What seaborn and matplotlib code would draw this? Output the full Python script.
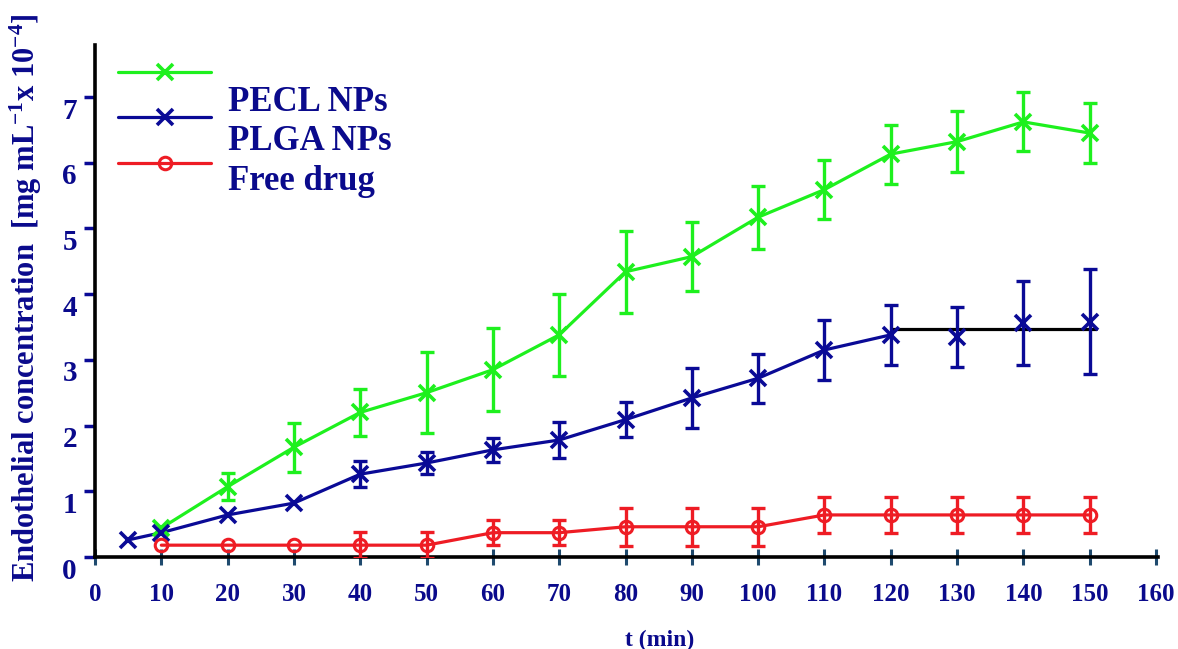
import numpy as np
import pandas as pd
import matplotlib
matplotlib.use("Agg")
import matplotlib.pyplot as plt
import matplotlib.transforms as mtransforms
from matplotlib.lines import Line2D
import seaborn as sns

# ---------------- data ----------------
t_pecl = [10, 20, 30, 40, 50, 60, 70, 80, 90, 100, 110, 120, 130, 140, 150]
v_pecl = [0.44, 1.07, 1.67, 2.20, 2.50, 2.85, 3.38, 4.34, 4.57, 5.17, 5.59, 6.13, 6.32, 6.62, 6.45]
e_pecl = [np.nan, 0.21, 0.37, 0.36, 0.62, 0.63, 0.62, 0.62, 0.53, 0.48, 0.45, 0.45, 0.46, 0.45, 0.46]

t_plga = [5, 10, 20, 30, 40, 50, 60, 70, 80, 90, 100, 110, 120, 130, 140, 150]
v_plga = [0.26, 0.37, 0.64, 0.82, 1.26, 1.43, 1.63, 1.78, 2.09, 2.42, 2.72, 3.15, 3.38, 3.35, 3.56, 3.58]
e_plga = [np.nan, np.nan, np.nan, np.nan, 0.20, 0.17, 0.18, 0.27, 0.27, 0.45, 0.37, 0.46, 0.46, 0.46, 0.64, 0.80]
plga_line_end = 120          # PLGA coloured line stops here
plateau_t = [120, 151]       # black plateau segment
plateau_v = [3.47, 3.47]

t_free = [10, 20, 30, 40, 50, 60, 70, 80, 90, 100, 110, 120, 130, 140, 150]
v_free = [0.18, 0.18, 0.18, 0.18, 0.18, 0.37, 0.37, 0.46, 0.46, 0.46, 0.64, 0.64, 0.64, 0.64, 0.64]
e_free = [np.nan, np.nan, np.nan, 0.20, 0.20, 0.19, 0.19, 0.29, 0.29, 0.29, 0.28, 0.28, 0.28, 0.28, 0.28]

labels = ["PECL NPs", "PLGA NPs", "Free drug"]
x_ticks = [0, 10, 20, 30, 40, 50, 60, 70, 80, 90, 100, 110, 120, 130, 140, 150, 160]
y_ticks = [0, 1, 2, 3, 4, 5, 6, 7]

# ---------------- style ----------------
sns.set_style("white")
plt.rcParams["font.family"] = ["Liberation Serif", "DejaVu Serif"]
plt.rcParams["mathtext.default"] = "regular"

GREEN = "#1EF01E"
NAVY = "#0A0A96"
RED = "#EE1C24"
TXT = "#0A0A8C"

fig = plt.figure(figsize=(11.78, 6.49), dpi=100)
ax = fig.add_axes([95 / 1178, 1 - 557 / 649, 1063 / 1178, (557 - 45) / 649])

df_pecl = pd.DataFrame({"t": t_pecl, "v": v_pecl})
df_plga = pd.DataFrame({"t": t_plga, "v": v_plga})
df_free = pd.DataFrame({"t": t_free, "v": v_free})

# lines
sns.lineplot(data=df_pecl, x="t", y="v", ax=ax, color=GREEN, lw=2.3, zorder=3)
sns.lineplot(data=df_plga[df_plga.t <= plga_line_end], x="t", y="v", ax=ax,
             color=NAVY, lw=2.3, zorder=3)
ax.plot(plateau_t, plateau_v, color="black", lw=2.3, zorder=3)
sns.lineplot(data=df_free, x="t", y="v", ax=ax, color=RED, lw=2.3, zorder=3)

# markers
ax.plot(t_pecl, v_pecl, ls="none", marker="x", ms=11, mew=2.6, color=GREEN, zorder=4)
ax.plot(t_plga, v_plga, ls="none", marker="x", ms=11, mew=2.6, color=NAVY, zorder=4)
ax.plot(t_free, v_free, ls="none", marker="o", ms=9, mew=2.2, mfc="none", mec=RED, zorder=4)

# error bars
def errs(t, v, e, color):
    t = np.asarray(t, float); v = np.asarray(v, float); e = np.asarray(e, float)
    m = ~np.isnan(e)
    ax.errorbar(t[m], v[m], yerr=e[m], fmt="none", ecolor=color, elinewidth=2.4,
                capsize=5, capthick=2.4, zorder=4)

errs(t_pecl, v_pecl, e_pecl, GREEN)
errs(t_plga, v_plga, e_plga, NAVY)
errs(t_free, v_free, e_free, RED)

# axes
ax.set_xlim(0, 160.3)
ax.set_ylim(0, 7.79)
ax.set_xticks(x_ticks)
ax.set_yticks(y_ticks)
ax.set_xticklabels([str(x) for x in x_ticks])
ax.set_yticklabels([str(y) for y in y_ticks])
for s in ["top", "right"]:
    ax.spines[s].set_visible(False)
for s in ["left", "bottom"]:
    ax.spines[s].set_color("black")
    ax.spines[s].set_linewidth(2.6)

ax.tick_params(axis="x", bottom=True, direction="inout", length=12, width=2.2,
               color="#1F4A6E", labelcolor=TXT, labelsize=18, pad=13)
ax.tick_params(axis="y", left=True, direction="out", length=8, width=2.5, color=NAVY,
               labelcolor=TXT, labelsize=21, pad=5)
for lab in ax.get_xticklabels() + ax.get_yticklabels():
    lab.set_fontweight("bold")
offset = mtransforms.ScaledTranslation(0, -8 / 72, fig.dpi_scale_trans)
for lab in ax.get_yticklabels():
    lab.set_transform(lab.get_transform() + offset)

ax.set_xlabel("t (min)", fontsize=17, fontweight="bold", color=TXT)
ax.xaxis.set_label_coords((660 - 95) / 1063, -(630 - 557) / 512)
ax.set_ylabel(r"Endothelial concentration  [mg mL$^{-1}$x 10$^{-4}$]",
              fontsize=22, fontweight="bold", color=TXT)
ax.yaxis.set_label_coords(-(95 - 44) / 1063, (557 - 298) / 512)

# legend: handles and labels drawn as two blocks (labels sit lower than lines)
handles = [
    Line2D([], [], color=GREEN, lw=2.3, marker="x", ms=11, mew=2.6),
    Line2D([], [], color=NAVY, lw=2.3, marker="x", ms=11, mew=2.6),
    Line2D([], [], color=RED, lw=2.3, marker="o", ms=9, mew=2.2, mfc="none", mec=RED),
]
leg1 = ax.legend(handles, ["", "", ""], loc="upper left",
                 bbox_to_anchor=((118 - 95) / 1063, (557 - 64) / 512),
                 frameon=False, handlelength=4.2, labelspacing=1.13,
                 borderaxespad=0, borderpad=0, fontsize=16, handletextpad=0)
ax.add_artist(leg1)
blank = [Line2D([], [], color="none") for _ in labels]
leg2 = ax.legend(blank, labels, loc="upper left",
                 bbox_to_anchor=((228 - 95) / 1063, (557 - 86) / 512),
                 frameon=False, handlelength=0, handletextpad=0, labelspacing=0.18,
                 borderaxespad=0, borderpad=0,
                 prop={"family": "Liberation Serif", "weight": "bold", "size": 25})
for txt in leg2.get_texts():
    txt.set_color(TXT)

fig.savefig("out.png", dpi=100)
